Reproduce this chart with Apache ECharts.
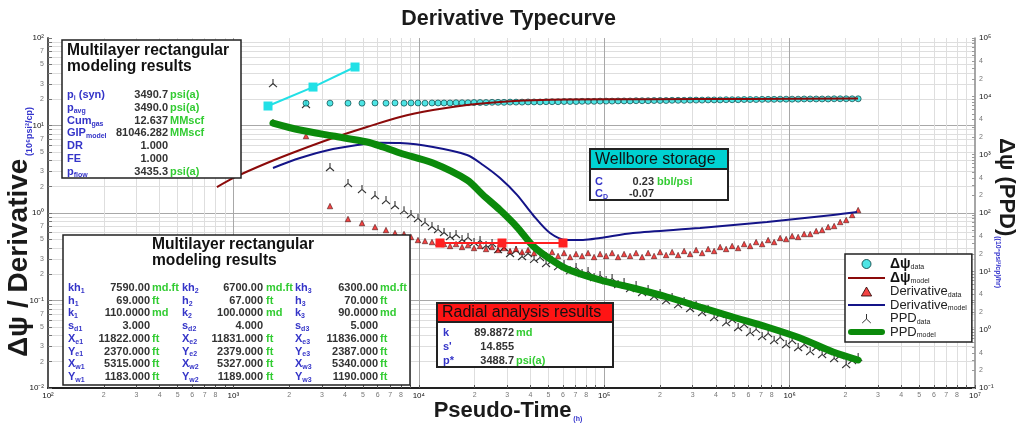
<!DOCTYPE html>
<html>
<head>
<meta charset="utf-8">
<script src="https://cdn.jsdelivr.net/npm/echarts@6/dist/echarts.min.js"></script>
<style>
html, body { margin: 0; padding: 0; background: #fff; }
#chart { width: 1017px; height: 430px; }
</style>
</head>
<body>
<div id="chart"></div>
<script>
var FONT = 'Liberation Sans, Arial, sans-serif';

// measured points (pseudo-time, h)
var tData = [1635, 2464, 3319, 4151, 4938, 5804, 6655, 7440, 8323, 9077, 9901, 10800, 11780, 12700,
    13680, 14740, 15880, 17110, 18430, 19860, 21400, 23050, 24840, 26760,
    28830, 31060, 33460, 36050, 38840, 41850, 45090, 48580, 52340, 56390,
    60750, 65450, 70520, 75970, 81850, 88190, 95010, 102400, 110300, 118800,
    128000, 137900, 148600, 160100, 172500, 185800, 200200, 215700, 232400, 250400,
    269800, 290600, 313100, 337400, 363500, 391600, 421900, 454600, 489800, 527700,
    568500, 612500, 659900, 711000, 766000, 825300, 889200, 958000, 1032000, 1112000,
    1198000, 1291000, 1391000, 1498000, 1614000, 1739000, 1874000, 2019000, 2175000, 2343000];

var psiData = [null, 18.0, 18.0, 18.0, 18.0, 18.1, 18.0, 18.1, 18.0, 18.1, 18.1, 18.0, 18.1, 18.1,
    18.1, 18.1, 18.2, 18.2, 18.2, 18.3, 18.3, 18.3, 18.4, 18.4,
    18.4, 18.5, 18.5, 18.5, 18.6, 18.6, 18.6, 18.7, 18.7, 18.7,
    18.8, 18.8, 18.8, 18.9, 18.9, 18.9, 19.0, 19.0, 19.0, 19.1,
    19.1, 19.1, 19.2, 19.2, 19.2, 19.3, 19.3, 19.3, 19.4, 19.4,
    19.4, 19.5, 19.5, 19.5, 19.6, 19.6, 19.6, 19.7, 19.7, 19.7,
    19.8, 19.8, 19.8, 19.9, 19.9, 19.9, 20.0, 20.0, 20.0, 20.0,
    20.1, 20.1, 20.1, 20.1, 20.1, 20.2, 20.2, 20.2, 20.2, 20.2];

var derData = [11.0, 7.59, 1.20, 0.854, 0.768, 0.692, 0.639, 0.591, 0.575, 0.532, 0.491, 0.479, 0.466, 0.454,
    0.442, 0.420, 0.442, 0.409, 0.431, 0.398, 0.420, 0.388, 0.409, 0.378,
    0.398, 0.368, 0.388, 0.358, 0.378, 0.349, 0.368, 0.331, 0.358, 0.323,
    0.349, 0.314, 0.340, 0.323, 0.349, 0.314, 0.340, 0.323, 0.349, 0.314,
    0.340, 0.323, 0.349, 0.314, 0.349, 0.323, 0.358, 0.331, 0.358, 0.331,
    0.368, 0.340, 0.378, 0.349, 0.388, 0.368, 0.409, 0.388, 0.420, 0.398,
    0.442, 0.420, 0.466, 0.442, 0.491, 0.466, 0.518, 0.504, 0.546, 0.532,
    0.575, 0.575, 0.622, 0.639, 0.692, 0.710, 0.789, 0.832, 0.949, 1.08];

var ppdData = [16900, 7390, 614, 327, 258, 203, 167, 137, 112, 96.1, 82.1, 70.1, 59.8, 53.2,
    47.2, 40.3, 43.6, 35.8, 38.8, 31.8, 34.4, 28.3, 30.6, 24.1,
    26.1, 20.6, 23.2, 18.3, 20.6, 16.3, 17.6, 13.9, 15.6, 12.3,
    13.4, 10.5, 11.9, 9.36, 10.1, 7.99, 8.65, 7.10, 7.69, 6.06,
    6.56, 5.18, 5.83, 4.42, 4.98, 3.78, 4.25, 3.22, 3.63, 2.75,
    3.10, 2.35, 2.65, 2.01, 2.26, 1.65, 1.86, 1.35, 1.52, 1.11,
    1.25, 0.912, 1.03, 0.779, 0.877, 0.665, 0.749, 0.568, 0.665, 0.504,
    0.568, 0.431, 0.504, 0.383, 0.431, 0.327, 0.368, 0.258, 0.302, 0.340];

// model curves
var tPsiModel = [815, 995, 1518, 2287, 3445, 5254, 7918, 11930, 18200, 27420, 41300, 63000, 176600, 611000, 2339000];
var psiModel = [1.98, 2.51, 3.73, 5.25, 7.20, 9.61, 12.5, 15.0, 17.2, 18.6, 19.4, 19.8, 20.0, 20.1, 20.3];

var tDerModel = [1635, 2287, 3445, 5254, 6176, 7918, 11930, 18200, 22200, 27420, 33870, 41300, 51020, 63000, 76870, 94920, 143000, 328700, 755200, 1715000, 2310000];
var derModel = [3.27, 4.25, 5.39, 6.20, 6.35, 6.30, 5.68, 4.60, 3.54, 2.51, 1.61, 0.949, 0.591, 0.491, 0.491, 0.518, 0.591, 0.674, 0.789, 0.949, 1.027];

var tPpdModel = [1635, 2287, 3445, 5254, 6412, 7918, 11930, 18200, 22200, 27420, 33870, 41300, 51020, 63000, 94920, 143000, 218100, 328700, 495000, 755200, 1138000, 1715000, 2339000];
var ppdModel = [3489, 2647, 2089, 1648, 1353, 1068, 719.5, 367.8, 203.4, 112.5, 57.5, 27.2, 16.3, 10.96, 7.10, 5.18, 3.63, 2.44, 1.65, 1.11, 0.719, 0.414, 0.302];

// analysis lines
var tWbs = [1537, 2688, 4529];
var wbsLine = [16.7, 27.5, 46.6];
var tRadial = [13010, 28100, 59960];
var radialLine = [0.454, 0.454, 0.454];

// tick labels (decade exponents and labelled mantissas)
var xDecades = [2, 3, 4, 5, 6, 7];
var xMinorLabels = [2, 3, 4, 5, 6, 7, 8];
var yLeftDecades = [-2, -1, 0, 1, 2];
var yLeftMinorLabels = [2, 3, 5, 7];
var yRightDecades = [-1, 0, 1, 2, 3, 4, 5];
var yRightMinorLabels = [2, 4];
var allMinors = [2, 3, 4, 5, 6, 7, 8, 9];

var SUP = {'-': '⁻', '0': '⁰', '1': '¹', '2': '²', '3': '³', '4': '⁴', '5': '⁵', '6': '⁶', '7': '⁷', '8': '⁸', '9': '⁹'};

function decadeText(n) {
    return '10' + String(n).split('').map(function (c) { return SUP[c]; }).join('');
}

function logLabel(v) {
    var n = Math.round(v);
    if (Math.abs(v - n) < 1e-6) return '{d|' + decadeText(n) + '}';
    return '{m|' + Math.round(Math.pow(10, v - Math.floor(v))) + '}';
}

function tickVals(decs, ks, withDecades) {
    var out = withDecades ? decs.slice() : [];
    for (var i = 0; i < decs.length - 1; i++) {
        ks.forEach(function (k) { out.push(decs[i] + Math.log10(k)); });
    }
    return out.sort(function (a, b) { return a - b; });
}

function pairs(ts, vs) {
    var out = [];
    ts.forEach(function (t, i) {
        if (vs[i] != null) out.push([Math.log10(t), Math.log10(vs[i])]);
    });
    return out;
}

var tickRich = {
    d: {fontSize: 8, color: '#111', fontFamily: FONT},
    m: {fontSize: 7, color: '#777', fontFamily: FONT}
};

function gridAxis(min, max, pos, vals, color) {
    return {
        type: 'value', min: min, max: max, position: pos,
        axisLine: {show: false, onZero: false},
        axisTick: {show: false, customValues: vals},
        axisLabel: {show: false},
        splitLine: {show: true, lineStyle: {color: color, width: 1}}
    };
}

var TRISTAR = 'path://M5,0L5,5M5,5L0.7,9M5,5L9.3,9';
var LINE_ICON = 'path://M0,0L37,0L37,2.2L0,2.2Z';
var THICK_ICON = 'path://M3,0L34,0A3,3,0,0,1,34,6L3,6A3,3,0,0,1,3,0Z';
var TRI_ICON = 'path://M4,0L8,7L0,7Z';

// ---- text boxes ----
var blue = '#3434c8', green = '#33cc33', dark = '#333';
var boxRich = {
    l: {font: 'bold 11px ' + FONT, fill: blue, lineHeight: 13},
    ls: {font: 'bold 7px ' + FONT, fill: blue, lineHeight: 8, verticalAlign: 'bottom'},
    big: {font: 'bold 28px ' + FONT, fill: '#1a1a1a', lineHeight: 30},
    mid: {font: 'bold 22px ' + FONT, fill: '#1a1a1a', lineHeight: 24},
    sub9: {font: 'bold 9px ' + FONT, fill: '#3333cc', lineHeight: 11, verticalAlign: 'bottom'},
    sub7: {font: 'bold 7px ' + FONT, fill: '#3333cc', lineHeight: 9, verticalAlign: 'bottom'}
};

function gtext(x, y, text, font, fill, align, valign) {
    return {
        type: 'text', x: x, y: y, z: 101, silent: true,
        style: {
            text: text, font: font, fill: fill, rich: boxRich, lineHeight: 16,
            textAlign: align || 'left', textVerticalAlign: valign || 'middle'
        }
    };
}

function grect(x, y, w, h, fill, lw) {
    return {
        type: 'rect', z: 100, silent: true,
        shape: {x: x, y: y, width: w, height: h},
        style: {fill: fill, stroke: '#222', lineWidth: lw || 1.5}
    };
}

var B = 'bold 11px ' + FONT;
var graphics = [];

// axis titles
var leftName = gtext(19, 232, '{big|Δψ / Derivative}{sub9| (10⁶psi²/cp)}', B, '#1a1a1a', 'center');
leftName.rotation = Math.PI / 2;
graphics.push(leftName);
var rightName = gtext(1006, 213, '{mid|Δψ (PPD)}{sub7|((10⁶psi²/cp)/hr)}', B, '#1a1a1a', 'center');
rightName.rotation = -Math.PI / 2;
graphics.push(rightName);
graphics.push(gtext(508, 411, '{mid|Pseudo-Time}{sub7| (h)}', B, '#1a1a1a', 'center'));

// box 1
graphics.push(grect(62, 40, 179, 138, '#fff'));
graphics.push(gtext(67, 43, 'Multilayer rectangular\nmodeling results', 'bold 15.6px ' + FONT, '#111', 'left', 'top'));
var box1Rows = [
    ['{l|p}{ls|i}{l| (syn)}', '3490.7', 'psi(a)'],
    ['{l|p}{ls|avg}', '3490.0', 'psi(a)'],
    ['{l|Cum}{ls|gas}', '12.637', 'MMscf'],
    ['{l|GIP}{ls|model}', '81046.282', 'MMscf'],
    ['{l|DR}', '1.000', ''],
    ['{l|FE}', '1.000', ''],
    ['{l|p}{ls|flow}', '3435.3', 'psi(a)']
];
box1Rows.forEach(function (r, i) {
    var y = 95 + 12.8 * i;
    graphics.push(gtext(67, y, r[0], B, blue));
    graphics.push(gtext(168, y, r[1], B, dark, 'right'));
    if (r[2]) graphics.push(gtext(170, y, r[2], B, green));
});

// box 2
graphics.push(grect(63, 235, 347, 150, '#fff'));
graphics.push(gtext(152, 237, 'Multilayer rectangular\nmodeling results', 'bold 15.6px ' + FONT, '#111', 'left', 'top'));
var box2Rows = [
    [['kh', '1', '7590.00', 'md.ft'], ['kh', '2', '6700.00', 'md.ft'], ['kh', '3', '6300.00', 'md.ft']],
    [['h', '1', '69.000', 'ft'], ['h', '2', '67.000', 'ft'], ['h', '3', '70.000', 'ft']],
    [['k', '1', '110.0000', 'md'], ['k', '2', '100.0000', 'md'], ['k', '3', '90.0000', 'md']],
    [['s', 'd1', '3.000', ''], ['s', 'd2', '4.000', ''], ['s', 'd3', '5.000', '']],
    [['X', 'e1', '11822.000', 'ft'], ['X', 'e2', '11831.000', 'ft'], ['X', 'e3', '11836.000', 'ft']],
    [['Y', 'e1', '2370.000', 'ft'], ['Y', 'e2', '2379.000', 'ft'], ['Y', 'e3', '2387.000', 'ft']],
    [['X', 'w1', '5315.000', 'ft'], ['X', 'w2', '5327.000', 'ft'], ['X', 'w3', '5340.000', 'ft']],
    [['Y', 'w1', '1183.000', 'ft'], ['Y', 'w2', '1189.000', 'ft'], ['Y', 'w3', '1190.000', 'ft']]
];
var colLabel = [68, 182, 295], colValue = [150, 263, 378], colUnit = [152, 266, 380];
box2Rows.forEach(function (row, i) {
    var y = 288 + 12.7 * i;
    row.forEach(function (c, j) {
        graphics.push(gtext(colLabel[j], y, '{l|' + c[0] + '}{ls|' + c[1] + '}', B, blue));
        graphics.push(gtext(colValue[j], y, c[2], B, dark, 'right'));
        if (c[3]) graphics.push(gtext(colUnit[j], y, c[3], B, green));
    });
});

// wellbore storage
graphics.push(grect(590, 149, 138, 51, '#fff', 2));
graphics.push(grect(590, 149, 138, 20, '#00d2d2', 2));
graphics.push(gtext(595, 159.5, 'Wellbore storage', '16px ' + FONT, '#111'));
graphics.push(gtext(595, 182, '{l|C}', B, blue));
graphics.push(gtext(654, 182, '0.23', B, dark, 'right'));
graphics.push(gtext(657, 182, 'bbl/psi', B, green));
graphics.push(gtext(595, 194, '{l|C}{ls|D}', B, blue));
graphics.push(gtext(654, 194, '-0.07', B, dark, 'right'));

// radial analysis
graphics.push(grect(437, 303, 176, 64, '#fff', 2));
graphics.push(grect(437, 303, 176, 19, '#ff1414', 2));
graphics.push(gtext(442, 313, 'Radial analysis results', '16px ' + FONT, '#111'));
[['k', '89.8872', 'md'], ["s'", '14.855', ''], ['p*', '3488.7', 'psi(a)']].forEach(function (r, i) {
    var y = 333 + 14 * i;
    graphics.push(gtext(443, y, '{l|' + r[0] + '}', B, blue));
    graphics.push(gtext(514, y, r[1], B, dark, 'right'));
    if (r[2]) graphics.push(gtext(516, y, r[2], B, green));
});

var chart = echarts.init(document.getElementById('chart'));

var option = {
    animation: false,
    title: {
        text: 'Derivative Typecurve', left: 'center', top: 8, padding: 0,
        textStyle: {fontSize: 21.5, fontWeight: 'bold', fontFamily: FONT, color: '#1a1a1a'}
    },
    grid: {left: 48, right: 42, top: 38, bottom: 42, containLabel: false, outerBoundsMode: 'none'},
    legend: {
        data: [
            {name: 'Δψ data', icon: 'circle'},
            {name: 'Δψ model', icon: LINE_ICON},
            {name: 'Derivative data', icon: TRI_ICON},
            {name: 'Derivative model', icon: LINE_ICON},
            {name: 'PPD data', icon: TRISTAR},
            {name: 'PPD model', icon: THICK_ICON}
        ],
        orient: 'vertical', left: 845, top: 254,
        padding: [3, 5, 3, 3], itemWidth: 37, itemHeight: 9, itemGap: 0,
        backgroundColor: '#fff', borderColor: '#222', borderWidth: 1.5,
        selectedMode: false,
        itemStyle: {borderWidth: 1},
        formatter: function (name) {
            var p = name.split(' ');
            return (p[0] === 'Δψ' ? '{g|Δψ}' : '{n|' + p[0] + '}') + '{s|' + p[1] + '}';
        },
        textStyle: {
            rich: {
                g: {fontSize: 14, fontWeight: 'bold', color: '#111', fontFamily: FONT, lineHeight: 14},
                n: {fontSize: 13, color: '#222', fontFamily: FONT, lineHeight: 14},
                s: {fontSize: 7, color: '#222', fontFamily: FONT, lineHeight: 8, verticalAlign: 'bottom'}
            }
        }
    },
    xAxis: [
        {
            type: 'value', min: 2, max: 7, position: 'bottom',
            axisLine: {show: true, onZero: false, lineStyle: {color: '#222', width: 2}},
            axisTick: {show: true, inside: true, length: 3, customValues: tickVals(xDecades, allMinors, true), lineStyle: {color: '#555'}},
            axisLabel: {customValues: tickVals(xDecades, xMinorLabels, true), formatter: logLabel, margin: 4, rich: tickRich},
            splitLine: {show: false}
        },
        gridAxis(2, 7, 'bottom', tickVals(xDecades, allMinors, false), '#dedede'),
        gridAxis(2, 7, 'bottom', [3, 4, 5, 6], '#a8a8a8')
    ],
    yAxis: [
        {
            type: 'value', min: -2, max: 2, position: 'left',
            axisLine: {show: true, onZero: false, lineStyle: {color: '#555', width: 2}},
            axisTick: {show: true, inside: true, length: 4, customValues: tickVals(yLeftDecades, allMinors, true), lineStyle: {color: '#777'}},
            axisLabel: {customValues: tickVals(yLeftDecades, yLeftMinorLabels, true), formatter: logLabel, margin: 4, rich: tickRich},
            splitLine: {show: false}
        },
        {
            type: 'value', min: -1, max: 5, position: 'right',
            axisLine: {show: true, onZero: false, lineStyle: {color: '#888', width: 1.5}},
            axisTick: {show: true, inside: true, length: 3, customValues: tickVals(yRightDecades, allMinors, true), lineStyle: {color: '#999'}},
            axisLabel: {customValues: tickVals(yRightDecades, yRightMinorLabels, true), formatter: logLabel, margin: 4, rich: tickRich},
            splitLine: {show: false}
        },
        gridAxis(-2, 2, 'left', tickVals(yLeftDecades, allMinors, false), '#dedede'),
        gridAxis(-2, 2, 'left', [-1, 0, 1], '#a8a8a8')
    ],
    series: [
        {
            name: 'PPD data', type: 'scatter', xAxisIndex: 0, yAxisIndex: 1,
            data: pairs(tData, ppdData), symbol: TRISTAR, symbolSize: 8,
            itemStyle: {color: 'rgba(0,0,0,0)', borderColor: '#000', borderWidth: 1.1}
        },
        {
            name: 'Derivative data', type: 'scatter', xAxisIndex: 0, yAxisIndex: 0,
            data: pairs(tData, derData), symbol: 'triangle', symbolSize: 5.5,
            itemStyle: {color: '#f01515', borderColor: '#200', borderWidth: 0.6}
        },
        {
            name: 'Δψ data', type: 'scatter', xAxisIndex: 0, yAxisIndex: 0,
            data: pairs(tData, psiData), symbol: 'circle', symbolSize: 6,
            itemStyle: {color: '#22dede', borderColor: '#033', borderWidth: 0.8}
        },
        {
            name: 'Δψ model', type: 'line', xAxisIndex: 0, yAxisIndex: 0,
            data: pairs(tPsiModel, psiModel), symbol: 'none', smooth: 0.3,
            lineStyle: {color: '#8b0a0a', width: 2}, itemStyle: {color: '#8b0a0a'}
        },
        {
            name: 'Derivative model', type: 'line', xAxisIndex: 0, yAxisIndex: 0,
            data: pairs(tDerModel, derModel), symbol: 'none', smooth: 0.3,
            lineStyle: {color: '#141488', width: 2}, itemStyle: {color: '#141488'}
        },
        {
            name: 'PPD model', type: 'line', xAxisIndex: 0, yAxisIndex: 1,
            data: pairs(tPpdModel, ppdModel), symbol: 'none', smooth: 0.3,
            lineStyle: {color: '#0b8a0b', width: 7, cap: 'round'}, itemStyle: {color: '#0b8a0b'}
        },
        {
            name: 'Wellbore storage', type: 'line', xAxisIndex: 0, yAxisIndex: 0,
            data: pairs(tWbs, wbsLine), symbol: 'rect', symbolSize: 9,
            lineStyle: {color: '#22e0e6', width: 2}, itemStyle: {color: '#22e0e6'}
        },
        {
            name: 'Radial analysis', type: 'line', xAxisIndex: 0, yAxisIndex: 0,
            data: pairs(tRadial, radialLine), symbol: 'rect', symbolSize: 9,
            lineStyle: {color: '#ff2020', width: 2}, itemStyle: {color: '#ff2020'}
        }
    ],
    graphic: graphics
};

chart.setOption(option);
</script>
</body>
</html>
